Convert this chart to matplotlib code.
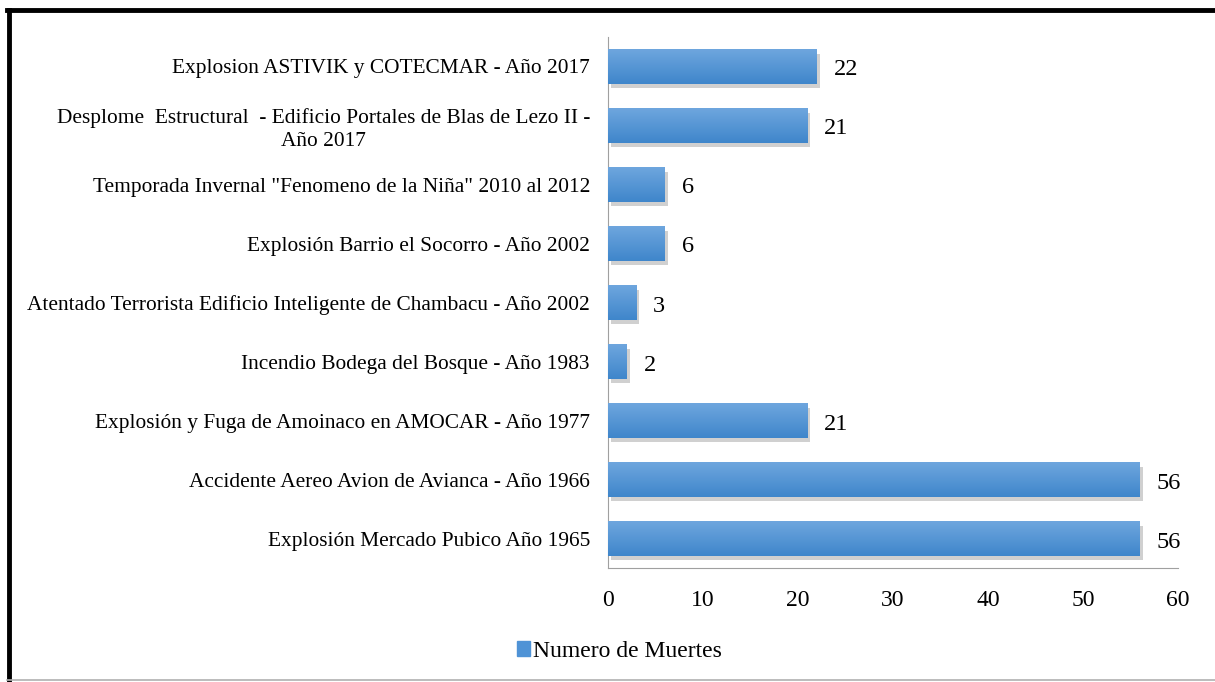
import numpy as np
import matplotlib
matplotlib.use("Agg")
import matplotlib.pyplot as plt
import matplotlib.patheffects as pe
from matplotlib.lines import Line2D

# datos (de abajo hacia arriba)
eventos = [
    "Explosión Mercado Pubico Año 1965",
    "Accidente Aereo Avion de Avianca - Año 1966",
    "Explosión y Fuga de Amoinaco en AMOCAR - Año 1977",
    "Incendio Bodega del Bosque - Año 1983",
    "Atentado Terrorista Edificio Inteligente de Chambacu - Año 2002",
    "Explosión Barrio el Socorro - Año 2002",
    "Temporada Invernal \"Fenomeno de la Niña\" 2010 al 2012",
    "Desplome  Estructural  - Edificio Portales de Blas de Lezo II -\nAño 2017",
    "Explosion ASTIVIK y COTECMAR - Año 2017",
]
muertes = [56, 56, 21, 2, 3, 6, 6, 21, 22]
xticks = [0, 10, 20, 30, 40, 50, 60]

plt.rcParams['font.family'] = ['Liberation Serif', 'DejaVu Serif']

fig = plt.figure(figsize=(12.15, 6.82), dpi=100)
ax = fig.add_axes([0.5004, 0.167, 0.4691, 0.7788])

y = np.arange(len(eventos))
bars = ax.barh(y, muertes, height=0.58, color='#4f93d6', zorder=2,
               path_effects=[pe.SimplePatchShadow(offset=(2, -3), shadow_rgbFace='#444444', alpha=0.25),
                             pe.Normal()])

# degradado dentro de cada barra (claro arriba, oscuro abajo)
grad = np.linspace(0, 1, 64).reshape(-1, 1)
cmap = matplotlib.colors.LinearSegmentedColormap.from_list('g', ['#3f86cb', '#6ea6de'])
for b in bars:
    x0, y0 = b.get_x(), b.get_y()
    w, h = b.get_width(), b.get_height()
    im = ax.imshow(grad, cmap=cmap, aspect='auto', extent=[x0, x0 + w, y0, y0 + h],
                   origin='lower', zorder=3, interpolation='bilinear')
    im.set_clip_path(b)

for i, v in enumerate(muertes):
    ax.annotate(str(v), (v, i), xytext=(12, -2.5), textcoords='offset points',
                ha='left', va='center', fontsize=17.5)

ax.set_xlim(0, 60)
ax.set_ylim(-0.5, len(eventos) - 0.5)
ax.set_xticks(xticks)
ax.set_yticks(y)
ax.set_yticklabels(eventos, fontsize=15.4, multialignment='center', linespacing=1.25)
ax.tick_params(axis='x', length=0, labelsize=17, pad=16)
ax.tick_params(axis='y', length=0, pad=13)
for s in ['top', 'right']:
    ax.spines[s].set_visible(False)
ax.spines['left'].set_color('#a0a0a0')
ax.spines['bottom'].set_color('#a0a0a0')

handle = plt.Rectangle((0, 0), 1, 1, color='#4f93d6')
fig.legend([handle], ['Numero de Muertes'], loc='center', bbox_to_anchor=(0.51, 0.045),
           frameon=False, fontsize=17, handlelength=0.55, handleheight=0.55, handletextpad=0.15)

# marco
fig.add_artist(Line2D([0.0074, 0.0074], [0.0, 0.986], transform=fig.transFigure, color='black', lw=3.5))
fig.add_artist(Line2D([0.006, 1.0], [0.986, 0.986], transform=fig.transFigure, color='black', lw=3.5))
fig.add_artist(Line2D([0.006, 1.0], [0.003, 0.003], transform=fig.transFigure, color='#b0b0b0', lw=1.2))

fig.savefig('out.png', dpi=100)
